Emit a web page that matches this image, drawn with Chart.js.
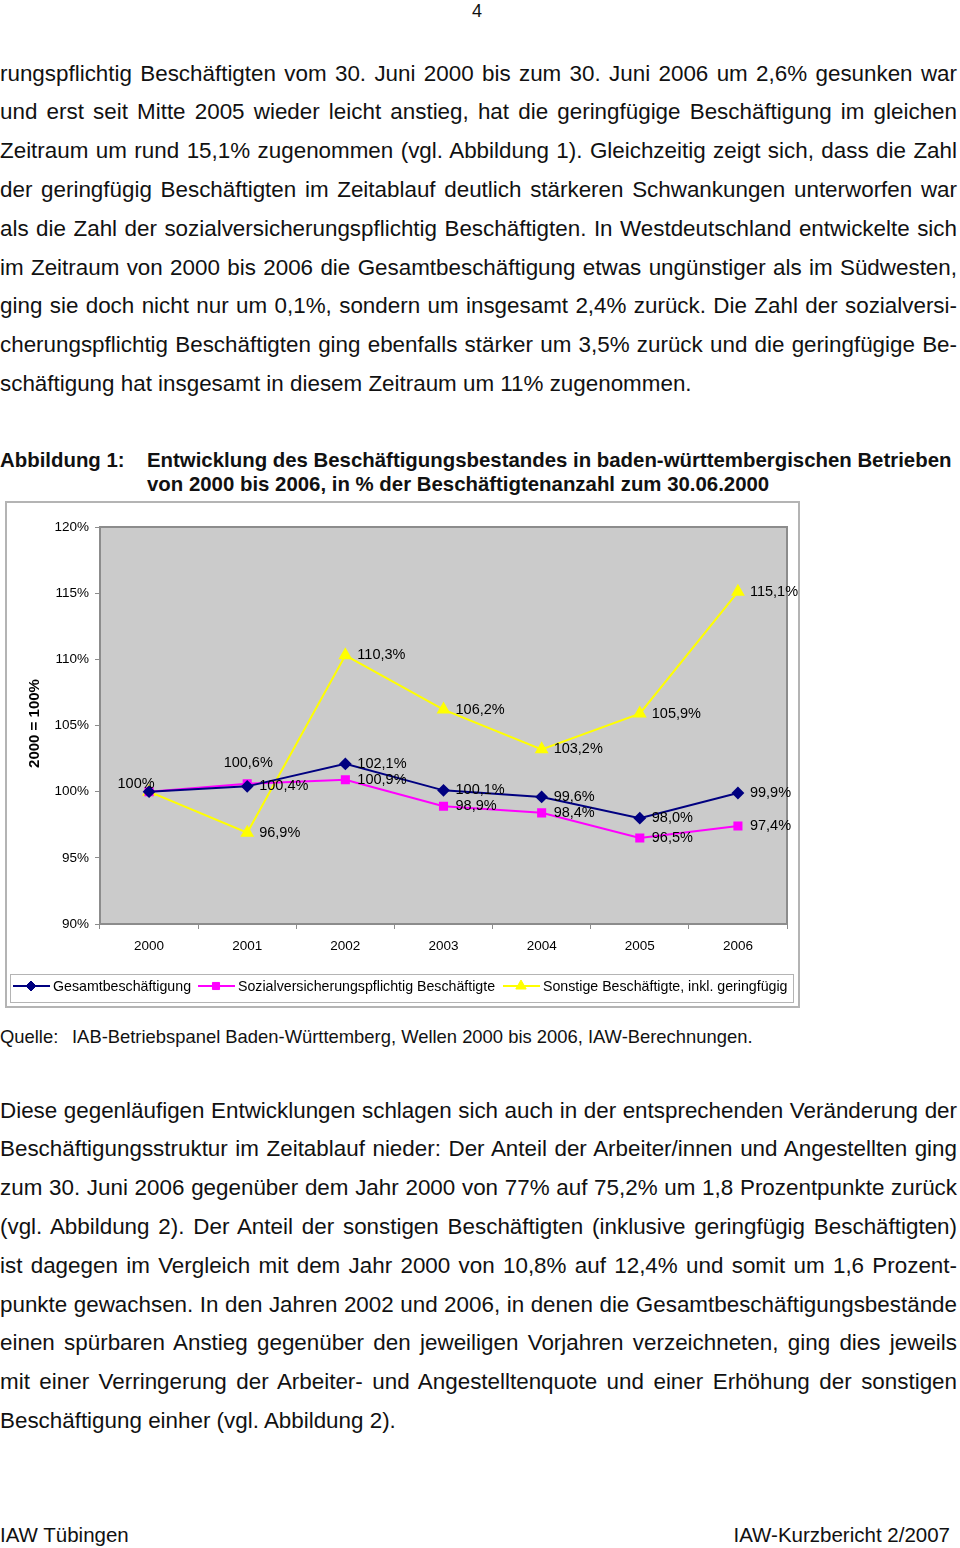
<!DOCTYPE html>
<html lang="de">
<head>
<meta charset="utf-8">
<script src="https://cdn.jsdelivr.net/npm/chart.js@4.4.1/dist/chart.umd.min.js"></script>
<style>
  body { margin: 0; width: 960px; height: 1548px; position: relative; background: #fff; color: #111;
         font-family: "Liberation Sans", Arial, sans-serif; }
  .txt { position: absolute; left: 0; width: 957px; font-size: 22.4px; line-height: 38.8px; }
  .txt div { white-space: nowrap; text-align: justify; text-align-last: justify; }
  .txt div.last { text-align-last: left; }
  .narrow { font-family: "Liberation Sans Narrow", "Arial Narrow", "Liberation Sans", sans-serif; }
  #pnum { position: absolute; left: 472px; top: 1px; font-size: 18px; }
  #cap { position: absolute; left: 0; top: 448px; font-size: 20.4px; font-weight: bold; line-height: 24px; }
  #cap .lbl { position: absolute; left: 0; top: 0; white-space: nowrap; }
  #cap .title { position: absolute; left: 147px; top: 0; white-space: nowrap; }
  #chartBox { position: absolute; left: 5px; top: 501px; }
  #quelle { position: absolute; left: 0; top: 1026px; font-size: 18.4px; white-space: nowrap; }
  #quelle span { position: absolute; left: 72px; top: 0; }
  #footL { position: absolute; left: 0; top: 1523px; font-size: 20.5px; }
  #footR { position: absolute; right: 10px; top: 1523px; font-size: 20.5px; }
</style>
</head>
<body>
<div id="pnum">4</div>

<div class="txt" style="top:54.6px">
  <div>rungspflichtig Beschäftigten vom 30. Juni 2000 bis zum 30. Juni 2006 um 2,6% gesunken war</div>
  <div>und erst seit Mitte 2005 wieder leicht anstieg, hat die geringfügige Beschäftigung im gleichen</div>
  <div>Zeitraum um rund 15,1% zugenommen (vgl. Abbildung 1). Gleichzeitig zeigt sich, dass die Zahl</div>
  <div>der geringfügig Beschäftigten im Zeitablauf deutlich stärkeren Schwankungen unterworfen war</div>
  <div>als die Zahl der sozialversicherungspflichtig Beschäftigten. In Westdeutschland entwickelte sich</div>
  <div>im Zeitraum von 2000 bis 2006 die Gesamtbeschäftigung etwas ungünstiger als im Südwesten,</div>
  <div>ging sie doch nicht nur um 0,1%, sondern um insgesamt 2,4% zurück. Die Zahl der sozialversi-</div>
  <div>cherungspflichtig Beschäftigten ging ebenfalls stärker um 3,5% zurück und die geringfügige Be-</div>
  <div class="last">schäftigung hat insgesamt in diesem Zeitraum um 11% zugenommen.</div>
</div>

<div id="cap" class="narrow">
  <div class="lbl">Abbildung 1:</div>
  <div class="title">Entwicklung des Beschäftigungsbestandes in baden-württembergischen Betrieben<br>von 2000 bis 2006, in % der Beschäftigtenanzahl zum 30.06.2000</div>
</div>

<div id="chartBox"><canvas id="chart" width="795" height="507"></canvas></div>

<div id="quelle" class="narrow">Quelle:<span>IAB-Betriebspanel Baden-Württemberg, Wellen 2000 bis 2006, IAW-Berechnungen.</span></div>

<div class="txt" style="top:1091.6px">
  <div>Diese gegenläufigen Entwicklungen schlagen sich auch in der entsprechenden Veränderung der</div>
  <div>Beschäftigungsstruktur im Zeitablauf nieder: Der Anteil der Arbeiter/innen und Angestellten ging</div>
  <div>zum 30. Juni 2006 gegenüber dem Jahr 2000 von 77% auf 75,2% um 1,8 Prozentpunkte zurück</div>
  <div>(vgl. Abbildung 2). Der Anteil der sonstigen Beschäftigten (inklusive geringfügig Beschäftigten)</div>
  <div>ist dagegen im Vergleich mit dem Jahr 2000 von 10,8% auf 12,4% und somit um 1,6 Prozent-</div>
  <div>punkte gewachsen. In den Jahren 2002 und 2006, in denen die Gesamtbeschäftigungsbestände</div>
  <div>einen spürbaren Anstieg gegenüber den jeweiligen Vorjahren verzeichneten, ging dies jeweils</div>
  <div>mit einer Verringerung der Arbeiter- und Angestelltenquote und einer Erhöhung der sonstigen</div>
  <div class="last">Beschäftigung einher (vgl. Abbildung 2).</div>
</div>

<div id="footL" class="narrow">IAW Tübingen</div>
<div id="footR" class="narrow">IAW-Kurzbericht 2/2007</div>

<script>
// --- Daten ---
const jahre = ['2000', '2001', '2002', '2003', '2004', '2005', '2006'];
const gesamt = [100, 100.4, 102.1, 100.1, 99.6, 98.0, 99.9];
const sozial = [100, 100.6, 100.9, 98.9, 98.4, 96.5, 97.4];
const sonstige = [100, 96.9, 110.3, 106.2, 103.2, 105.9, 115.1];
const serienNamen = ['Gesamtbeschäftigung', 'Sozialversicherungspflichtig Beschäftigte', 'Sonstige Beschäftigte, inkl. geringfügig'];
const achsenTitel = '2000 = 100%';

const FONT = '"Liberation Sans", Arial, sans-serif';

const fmt = (v) => v === 100 ? '100%' : v.toFixed(1).replace('.', ',') + '%';

// Label-Position je Punkt: 'r' rechts, 'top' darüber, 'tl' links oben, null = kein Label
const labelPos = [
  ['tl', 'r', 'r', 'r', 'r', 'r', 'r'],
  [null, 'top', 'r', 'r', 'r', 'r', 'r'],
  [null, 'r', 'r', 'r', 'r', 'r', 'r']
];

const hintergrund = {
  id: 'hintergrund',
  beforeDraw(chart) {
    const { ctx, chartArea: a, width, height } = chart;
    ctx.save();
    ctx.fillStyle = '#fff';
    ctx.fillRect(0, 0, width, height);
    ctx.strokeStyle = '#b4b4b4';
    ctx.lineWidth = 2;
    ctx.strokeRect(1, 1, width - 2, height - 2);
    ctx.fillStyle = '#cbcbcb';
    ctx.fillRect(a.left, a.top, a.right - a.left, a.bottom - a.top);
    ctx.strokeStyle = '#8c8c8c';
    ctx.lineWidth = 2;
    ctx.strokeRect(a.left, a.top, a.right - a.left, a.bottom - a.top);
    ctx.restore();
  }
};

const beschriftung = {
  id: 'beschriftung',
  afterDatasetsDraw(chart) {
    const { ctx } = chart;
    ctx.save();
    ctx.font = '14.5px ' + FONT;
    ctx.fillStyle = '#000';
    ctx.textBaseline = 'middle';
    chart.data.datasets.forEach((ds, i) => {
      chart.getDatasetMeta(i).data.forEach((pt, j) => {
        const pos = labelPos[i][j];
        if (!pos) return;
        const txt = fmt(ds.data[j]);
        if (pos === 'r') { ctx.textAlign = 'left'; ctx.fillText(txt, pt.x + 12, pt.y); }
        else if (pos === 'top') { ctx.textAlign = 'center'; ctx.fillText(txt, pt.x + 1, pt.y - 21); }
        else { ctx.textAlign = 'center'; ctx.fillText(txt, pt.x - 13, pt.y - 8); }
      });
    });

    // Achsentitel
    const a = chart.chartArea;
    ctx.font = 'bold 15px ' + FONT;
    ctx.translate(30, (a.top + a.bottom) / 2 - 2);
    ctx.rotate(-Math.PI / 2);
    ctx.textAlign = 'center';
    ctx.fillText(achsenTitel, 0, 0);
    ctx.restore();
  }
};

const legende = {
  id: 'legende',
  afterDraw(chart) {
    const { ctx } = chart;
    const y = 485;
    ctx.save();
    ctx.fillStyle = '#fff';
    ctx.fillRect(5, 473, 783, 28);
    ctx.strokeStyle = '#b4b4b4';
    ctx.lineWidth = 1;
    ctx.strokeRect(5.5, 473.5, 783, 28);
    const xs = [8, 193, 498];
    ctx.font = '14.2px ' + FONT;
    ctx.textBaseline = 'middle';
    ctx.textAlign = 'left';
    chart.data.datasets.forEach((ds, i) => {
      const x0 = xs[i];
      ctx.strokeStyle = ds.borderColor;
      ctx.lineWidth = 2;
      ctx.beginPath();
      ctx.moveTo(x0, y);
      ctx.lineTo(x0 + 37, y);
      ctx.stroke();
      ctx.fillStyle = ds.pointBackgroundColor;
      ctx.strokeStyle = ds.pointBorderColor;
      ctx.lineWidth = 1;
      Chart.helpers.drawPoint(ctx, { pointStyle: ds.pointStyle, radius: ds.pointRadius, borderWidth: 1 }, x0 + 18, y);
      ctx.fillStyle = '#000';
      ctx.fillText(serienNamen[i], x0 + 40, y + 1);
    });
    ctx.restore();
  }
};

const serie = (label, data, farbe, stil, radius) => ({
  label, data,
  borderColor: farbe, backgroundColor: farbe,
  pointBackgroundColor: farbe, pointBorderColor: farbe,
  pointStyle: stil, pointRadius: radius, pointHoverRadius: radius,
  borderWidth: 2, tension: 0
});

new Chart(document.getElementById('chart'), {
  type: 'line',
  data: {
    labels: jahre,
    datasets: [
      serie(serienNamen[0], gesamt, '#000080', 'rectRot', 5),
      serie(serienNamen[1], sozial, '#ff00ff', 'rect', 5),
      serie(serienNamen[2], sonstige, '#ffff00', 'triangle', 6)
    ]
  },
  options: {
    responsive: false,
    animation: false,
    layout: { padding: { top: 26, right: 13, left: 0, bottom: 0 } },
    plugins: { legend: { display: false }, tooltip: { enabled: false } },
    scales: {
      x: {
        offset: true,
        grid: { offset: true, drawOnChartArea: false, tickLength: 5, color: '#8c8c8c' },
        border: { color: '#8c8c8c', width: 2 },
        ticks: { color: '#000', font: { family: FONT, size: 13.5 }, padding: 9, maxRotation: 0 },
        afterFit: (s) => { s.height = 84; }
      },
      y: {
        min: 90, max: 120,
        grid: { drawOnChartArea: false, tickLength: 5, color: '#8c8c8c' },
        border: { color: '#8c8c8c', width: 2 },
        ticks: { stepSize: 5, color: '#000', font: { family: FONT, size: 13.5 }, padding: 6,
                 callback: (v) => v + '%' },
        afterFit: (s) => { s.width = 95; }
      }
    }
  },
  plugins: [hintergrund, beschriftung, legende]
});
</script>
</body>
</html>
